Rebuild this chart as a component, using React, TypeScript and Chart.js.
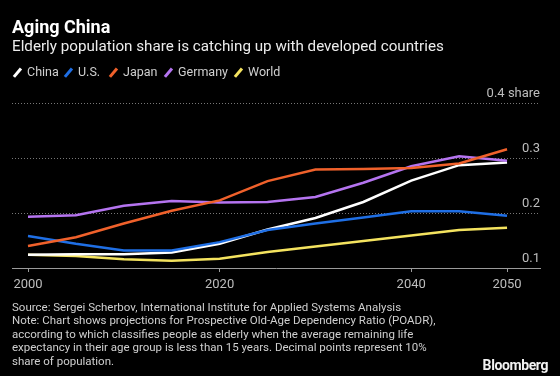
import React, { useEffect, useRef } from "react";
import { Chart, registerables } from "chart.js";

Chart.register(...registerables);

const years = [2000, 2005, 2010, 2015, 2020, 2025, 2030, 2035, 2040, 2045, 2050];
const china = [0.124, 0.125, 0.125, 0.128, 0.144, 0.17, 0.191, 0.22, 0.259, 0.287, 0.292];
const us = [0.158, 0.144, 0.132, 0.132, 0.147, 0.169, 0.181, 0.192, 0.203, 0.203, 0.195];
const japan = [0.14, 0.156, 0.181, 0.204, 0.223, 0.258, 0.279, 0.28, 0.282, 0.29, 0.316];
const germany = [0.193, 0.196, 0.213, 0.222, 0.219, 0.22, 0.229, 0.255, 0.285, 0.303, 0.295];
const world = [0.124, 0.122, 0.116, 0.113, 0.117, 0.129, 0.139, 0.149, 0.159, 0.169, 0.173];

const xTickValues = [2000, 2020, 2040, 2050];
const yTickValues = [0.1, 0.2, 0.3, 0.4];
const yTickLabels = ["0.1", "0.2", "0.3", "0.4 share"];

const seriesNames = ["China", "U.S.", "Japan", "Germany", "World"];
const seriesColors = ["#ffffff", "#1f6fe5", "#f0612b", "#b574f0", "#f4e35f"];
const seriesValues = [china, us, japan, germany, world];
const seriesOrder = [3, 2, 0, 1, 4];
const legendTextX = [27, 78, 123, 178, 248];

const FONT = "Roboto, 'Noto Sans', sans-serif";

export default function App() {
  const canvasRef = useRef<HTMLCanvasElement | null>(null);

  useEffect(() => {
    const canvas = canvasRef.current;
    if (!canvas) return;
    const labelPlugin = {
      id: "axisLabels",
      afterDraw(chart: any) {
        const ctx = chart.ctx;
        const ys = chart.scales.y;
        const xs = chart.scales.x;
        ctx.save();
        ctx.fillStyle = "#bdbdbd";
        ctx.font = `13px ${FONT}`;
        ctx.textAlign = "right";
        ctx.textBaseline = "bottom";
        yTickValues.forEach((v, i) => {
          ctx.fillText(yTickLabels[i], chart.chartArea.right, ys.getPixelForValue(v) - 3);
        });
        ctx.textAlign = "center";
        ctx.textBaseline = "middle";
        xTickValues.forEach((v) => {
          ctx.fillText(String(v), xs.getPixelForValue(v), chart.chartArea.bottom + 17);
        });
        ctx.restore();
      },
    };
    const chart = new Chart(canvas, {
      type: "line",
      data: {
        datasets: seriesNames.map((name, i) => ({
          label: name,
          data: years.map((x, j) => ({ x, y: seriesValues[i][j] })),
          borderColor: seriesColors[i],
          backgroundColor: seriesColors[i],
          borderWidth: 2.5,
          pointRadius: 0,
          tension: 0,
          order: seriesOrder[i],
        })),
      },
      options: {
        animation: false,
        responsive: false,
        maintainAspectRatio: false,
        layout: { padding: { left: 12, right: 20, top: 103, bottom: 0 } },
        plugins: { legend: { display: false }, tooltip: { enabled: false } },
        scales: {
          x: {
            type: "linear",
            min: 1998.33,
            max: 2053.44,
            afterBuildTicks: (s: any) => {
              s.ticks = xTickValues.map((v) => ({ value: v }));
            },
            afterFit: (s: any) => {
              s.height = 108;
            },
            ticks: { display: false },
            grid: { drawOnChartArea: false, drawTicks: true, tickLength: 4, color: "#9a9a9a" },
            border: { display: true, color: "#9a9a9a", width: 1 },
          },
          y: {
            type: "linear",
            position: "right",
            min: 0.1,
            max: 0.4,
            afterBuildTicks: (s: any) => {
              s.ticks = yTickValues.map((v) => ({ value: v }));
            },
            afterFit: (s: any) => {
              s.width = 0;
            },
            ticks: { display: false },
            grid: {
              drawTicks: false,
              color: (c: any) => (c.tick && c.tick.value <= 0.1001 ? "rgba(0,0,0,0)" : "#777777"),
              lineWidth: 1,
            },
            border: { display: false, dash: [1, 2] },
          },
        },
      },
      plugins: [labelPlugin],
    });
    return () => chart.destroy();
  }, []);

  return (
    <div
      style={{
        position: "absolute",
        left: 0,
        top: 0,
        width: 560,
        height: 376,
        background: "#000",
        overflow: "hidden",
        fontFamily: FONT,
      }}
    >
      <canvas ref={canvasRef} width={560} height={376} style={{ position: "absolute", left: 0, top: 0, width: 560, height: 376 }} />
      <div style={{ position: "absolute", left: 12, top: 16, fontSize: 18, fontWeight: 700, color: "#fff", lineHeight: "22px" }}>
        Aging China
      </div>
      <div style={{ position: "absolute", left: 12, top: 36, fontSize: 15.2, color: "#ececec", lineHeight: "20px", whiteSpace: "nowrap" }}>
        Elderly population share is catching up with developed countries
      </div>
      {seriesNames.map((n, i) => (
        <React.Fragment key={n}>
          <span
            style={{
              position: "absolute",
              left: legendTextX[i] - 11,
              top: 67,
              width: 2.5,
              height: 11,
              background: seriesColors[i],
              transform: "rotate(40deg)",
            }}
          />
          <span
            style={{
              position: "absolute",
              left: legendTextX[i],
              top: 63,
              fontSize: 12.5,
              color: "#cfcfcf",
              lineHeight: "18px",
              whiteSpace: "nowrap",
            }}
          >
            {n}
          </span>
        </React.Fragment>
      ))}
      <div style={{ position: "absolute", left: 12, top: 301, fontSize: 11.5, color: "#cfcfcf", lineHeight: "13.4px", whiteSpace: "nowrap" }}>
        Source: Sergei Scherbov, International Institute for Applied Systems Analysis
        <br />
        Note: Chart shows projections for Prospective Old-Age Dependency Ratio (POADR),
        <br />
        according to which classifies people as elderly when the average remaining life
        <br />
        expectancy in their age group is less than 15 years. Decimal points represent 10%
        <br />
        share of population.
      </div>
      <div style={{ position: "absolute", right: 12, top: 356, fontSize: 14, fontWeight: 700, color: "#f2f2f2", lineHeight: "18px", letterSpacing: -0.4 }}>
        Bloomberg
      </div>
    </div>
  );
}
